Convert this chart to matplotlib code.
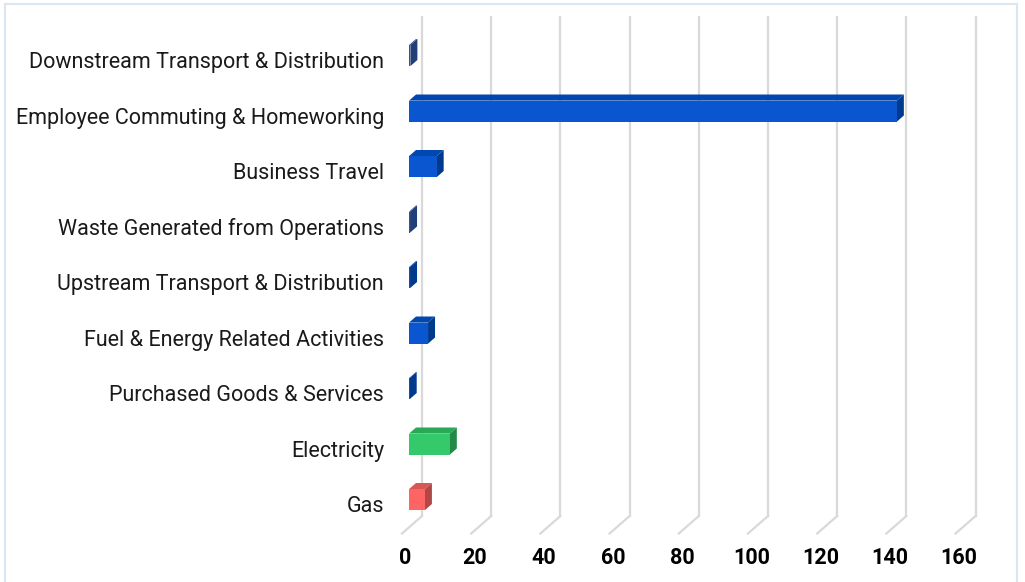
import numpy as np
import matplotlib
matplotlib.use('Agg')
import matplotlib.pyplot as plt
from matplotlib.patches import Polygon, Rectangle


# ----------------------------------------------------------------
# Data (bottom to top)
# ----------------------------------------------------------------
categories = ['Gas', 'Electricity', 'Purchased Goods & Services', 'Fuel & Energy Related Activities',
              'Upstream Transport & Distribution', 'Waste Generated from Operations', 'Business Travel',
              'Employee Commuting & Homeworking', 'Downstream Transport & Distribution']
values = [4.6, 11.8, 0.2, 5.5, 0.3, 0.3, 8.0, 141.0, 0.4]
front_colors = ['#fd6464', '#34c96a', '#0a4fbf', '#0a55d0', '#0a4fbf', '#2f5597', '#0a55d0', '#0a55d0', '#2f5597']
side_colors = ['#b04848', '#228a45', '#003a8c', '#003a8c', '#003a8c', '#213f78', '#003a8c', '#003a8c', '#213f78']
top_colors = ['#d85656', '#2aa857', '#0045a8', '#0047b0', '#0045a8', '#294a88', '#0047b0', '#0047b0', '#294a88']
xticks = [0, 20, 40, 60, 80, 100, 120, 140, 160]

plt.rcParams['font.family'] = ['Roboto', 'DejaVu Sans']

W, H = 1025, 582
fig = plt.figure(figsize=(W / 100, H / 100), dpi=100)

# axes: front plane, x 0..160 -> px 402..955.6, y -0.5..8.5 -> px 533..34
x0_px, x1_px = 402, 402 + 8 * 69.2
y_top_px, y_bot_px = 34.0, 533.5
ax = fig.add_axes([x0_px / W, 1 - y_bot_px / H, (x1_px - x0_px) / W, (y_bot_px - y_top_px) / H])
ax.set_xlim(0, 160)
ax.set_ylim(-0.5, 8.5)
ax.axis('off')

# depth offset of the pseudo 3D back plane, in data units
px_x = 160 / (x1_px - x0_px)
px_y = 9 / (y_bot_px - y_top_px)
dxd = 20 * px_x
dyd = 17.5 * px_y

# ----------------------------------------------------------------
# Gridlines on the back wall + floor
# ----------------------------------------------------------------
grid_color = '#d9d9d9'
for v in xticks:
  ax.plot([v + dxd, v + dxd], [-0.5 + dyd, 8.5 + dyd], color=grid_color, lw=1.6, clip_on=False, zorder=1)
  ax.plot([v + dxd, v], [-0.5 + dyd, -0.5], color=grid_color, lw=1.6, clip_on=False, zorder=1)
  ax.text(v + 1, -0.5 - 24 * px_y, str(v), ha='center', va='center', fontsize=15.5, fontweight='bold',
          color='black')

# ----------------------------------------------------------------
# Bars
# ----------------------------------------------------------------
f_front, f_back = 0.35, 0.7
bar_h = 21 * px_y
for i, (val, cf, cs, ct) in enumerate(zip(values, front_colors, side_colors, top_colors)):
  xa = f_front * dxd
  xb = val + f_front * dxd
  yc = i + f_front * dyd
  ylo, yhi = yc - bar_h / 2, yc + bar_h / 2
  ddx = (f_back - f_front) * dxd
  ddy = (f_back - f_front) * dyd
  top = Polygon([(xa, yhi), (xb, yhi), (xb + ddx, yhi + ddy), (xa + ddx, yhi + ddy)],
                closed=True, facecolor=ct, edgecolor='none', zorder=3, clip_on=False)
  side = Polygon([(xb, ylo), (xb, yhi), (xb + ddx, yhi + ddy), (xb + ddx, ylo + ddy)],
                 closed=True, facecolor=cs, edgecolor='none', zorder=3, clip_on=False)
  front = Rectangle((xa, ylo), xb - xa, bar_h, facecolor=cf, edgecolor='none', zorder=4, clip_on=False)
  ax.add_patch(top)
  ax.add_patch(side)
  ax.add_patch(front)
  ax.text(-18 * px_x, i - 1 * px_y, categories[i], ha='right', va='center', fontsize=15.5, color='#1a1a1a')

# light frame round the chart
fig.patches.append(Rectangle((5 / W, -0.05), 1012 / W, 1 - 4 / H + 0.05, transform=fig.transFigure,
                             fill=False, edgecolor='#dbe6f3', lw=1.5))

fig.savefig('out.png', dpi=100)
